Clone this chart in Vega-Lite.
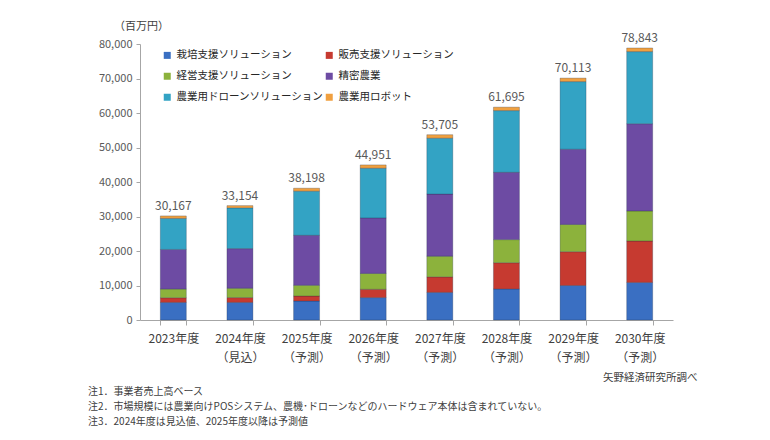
{
  "$schema": "https://vega.github.io/schema/vega-lite/v6.json",
  "width": 533,
  "height": 276,
  "autosize": {"type": "none"},
  "padding": {"left": 140, "top": 44, "right": 97, "bottom": 120},
  "background": "white",
  "config": {
    "font": "Noto Sans CJK JP",
    "view": {"stroke": null},
    "axis": {"labelFont": "Noto Sans CJK JP", "titleFont": "Noto Sans CJK JP"},
    "legend": {"labelFont": "Noto Sans CJK JP"}
  },
  "title": {
    "text": ["注1．事業者売上高ベース", "注2．市場規模には農業向けPOSシステム、農機･ドローンなどのハードウェア本体は含まれていない。", "注3．2024年度は見込値、2025年度以降は予測値"],
    "orient": "bottom",
    "anchor": "start",
    "frame": "group",
    "dx": -52,
    "offset": 4,
    "fontSize": 10,
    "fontWeight": "normal",
    "color": "#404040",
    "lineHeight": 15,
    "font": "Noto Sans CJK JP"
  },
  "datasets": {
    "segments": [
      {"year": "2023年度", "cat": "栽培支援ソリューション", "k": 1, "v": 5100},
      {"year": "2023年度", "cat": "販売支援ソリューション", "k": 2, "v": 1350},
      {"year": "2023年度", "cat": "経営支援ソリューション", "k": 3, "v": 2500},
      {"year": "2023年度", "cat": "精密農業", "k": 4, "v": 11500},
      {"year": "2023年度", "cat": "農業用ドローンソリューション", "k": 5, "v": 9000},
      {"year": "2023年度", "cat": "農業用ロボット", "k": 6, "v": 717},
      {"year": "2024年度", "cat": "栽培支援ソリューション", "k": 1, "v": 5100},
      {"year": "2024年度", "cat": "販売支援ソリューション", "k": 2, "v": 1400},
      {"year": "2024年度", "cat": "経営支援ソリューション", "k": 3, "v": 2700},
      {"year": "2024年度", "cat": "精密農業", "k": 4, "v": 11500},
      {"year": "2024年度", "cat": "農業用ドローンソリューション", "k": 5, "v": 11800},
      {"year": "2024年度", "cat": "農業用ロボット", "k": 6, "v": 654},
      {"year": "2025年度", "cat": "栽培支援ソリューション", "k": 1, "v": 5500},
      {"year": "2025年度", "cat": "販売支援ソリューション", "k": 2, "v": 1450},
      {"year": "2025年度", "cat": "経営支援ソリューション", "k": 3, "v": 3100},
      {"year": "2025年度", "cat": "精密農業", "k": 4, "v": 14500},
      {"year": "2025年度", "cat": "農業用ドローンソリューション", "k": 5, "v": 12800},
      {"year": "2025年度", "cat": "農業用ロボット", "k": 6, "v": 848},
      {"year": "2026年度", "cat": "栽培支援ソリューション", "k": 1, "v": 6500},
      {"year": "2026年度", "cat": "販売支援ソリューション", "k": 2, "v": 2400},
      {"year": "2026年度", "cat": "経営支援ソリューション", "k": 3, "v": 4600},
      {"year": "2026年度", "cat": "精密農業", "k": 4, "v": 16100},
      {"year": "2026年度", "cat": "農業用ドローンソリューション", "k": 5, "v": 14400},
      {"year": "2026年度", "cat": "農業用ロボット", "k": 6, "v": 951},
      {"year": "2027年度", "cat": "栽培支援ソリューション", "k": 1, "v": 8000},
      {"year": "2027年度", "cat": "販売支援ソリューション", "k": 2, "v": 4500},
      {"year": "2027年度", "cat": "経営支援ソリューション", "k": 3, "v": 6000},
      {"year": "2027年度", "cat": "精密農業", "k": 4, "v": 18000},
      {"year": "2027年度", "cat": "農業用ドローンソリューション", "k": 5, "v": 16200},
      {"year": "2027年度", "cat": "農業用ロボット", "k": 6, "v": 1005},
      {"year": "2028年度", "cat": "栽培支援ソリューション", "k": 1, "v": 9000},
      {"year": "2028年度", "cat": "販売支援ソリューション", "k": 2, "v": 7600},
      {"year": "2028年度", "cat": "経営支援ソリューション", "k": 3, "v": 6700},
      {"year": "2028年度", "cat": "精密農業", "k": 4, "v": 19500},
      {"year": "2028年度", "cat": "農業用ドローンソリューション", "k": 5, "v": 17900},
      {"year": "2028年度", "cat": "農業用ロボット", "k": 6, "v": 995},
      {"year": "2029年度", "cat": "栽培支援ソリューション", "k": 1, "v": 10000},
      {"year": "2029年度", "cat": "販売支援ソリューション", "k": 2, "v": 9800},
      {"year": "2029年度", "cat": "経営支援ソリューション", "k": 3, "v": 7900},
      {"year": "2029年度", "cat": "精密農業", "k": 4, "v": 21800},
      {"year": "2029年度", "cat": "農業用ドローンソリューション", "k": 5, "v": 19600},
      {"year": "2029年度", "cat": "農業用ロボット", "k": 6, "v": 1013},
      {"year": "2030年度", "cat": "栽培支援ソリューション", "k": 1, "v": 10900},
      {"year": "2030年度", "cat": "販売支援ソリューション", "k": 2, "v": 12000},
      {"year": "2030年度", "cat": "経営支援ソリューション", "k": 3, "v": 8700},
      {"year": "2030年度", "cat": "精密農業", "k": 4, "v": 25300},
      {"year": "2030年度", "cat": "農業用ドローンソリューション", "k": 5, "v": 20900},
      {"year": "2030年度", "cat": "農業用ロボット", "k": 6, "v": 1043}
    ],
    "totals": [
      {"year": "2023年度", "v": 30167},
      {"year": "2024年度", "v": 33154},
      {"year": "2025年度", "v": 38198},
      {"year": "2026年度", "v": 44951},
      {"year": "2027年度", "v": 53705},
      {"year": "2028年度", "v": 61695},
      {"year": "2029年度", "v": 70113},
      {"year": "2030年度", "v": 78843}
    ]
  },
  "encoding": {
    "x": {
      "field": "year", "type": "nominal", "sort": null,
      "scale": {"paddingInner": 0.61, "paddingOuter": 0.305},
      "axis": {
        "title": "矢野経済研究所調べ",
        "titleX": 557, "titleY": 57, "titleAlign": "right", "titleAnchor": null, "titleBaseline": "middle",
        "titleFontSize": 10.5, "titleFontWeight": "normal", "titleColor": "#404040",
        "labelAngle": 0, "labelFontSize": 12, "labelColor": "#404040", "labelPadding": 8, "labelLineHeight": 19,
        "labelBaseline": "top",
        "labelExpr": "datum.index < 0.05 ? [datum.value, ' '] : (datum.index < 0.2 ? [datum.value, '（見込）'] : [datum.value, '（予測）'])",
        "domainColor": "#a6a6a6", "tickColor": "#a6a6a6", "tickSize": 5, "tickBand": "extent"
      }
    },
    "y": {
      "field": "v", "type": "quantitative", "stack": "zero",
      "scale": {"domain": [0, 80000], "nice": false},
      "axis": {
        "title": "（百万円）",
        "titleAngle": 0, "titleX": 1, "titleY": -18, "titleAlign": "center", "titleBaseline": "middle",
        "titleFontSize": 11, "titleFontWeight": "normal", "titleColor": "#404040",
        "values": [0, 10000, 20000, 30000, 40000, 50000, 60000, 70000, 80000],
        "format": ",d", "labelOverlap": false, "labelFontSize": 11, "labelColor": "#595959", "labelPadding": 4,
        "grid": false, "domainColor": "#a6a6a6", "tickColor": "#a6a6a6", "tickSize": 4
      }
    }
  },
  "layer": [
    {
      "data": {"name": "segments"},
      "mark": {"type": "bar", "stroke": "#1c2a40", "strokeWidth": 0.6, "strokeOpacity": 0.45},
      "encoding": {
        "color": {
          "field": "cat", "type": "nominal",
          "scale": {
            "domain": ["栽培支援ソリューション", "販売支援ソリューション", "経営支援ソリューション", "精密農業", "農業用ドローンソリューション", "農業用ロボット"],
            "range": ["#3a6fc2", "#c63a30", "#8cb23c", "#6d4ba3", "#33a3c4", "#f0a040"]
          },
          "legend": {
            "title": null, "orient": "none", "legendX": 22, "legendY": 6,
            "values": ["栽培支援ソリューション", "経営支援ソリューション", "農業用ドローンソリューション", "販売支援ソリューション", "精密農業", "農業用ロボット"],
            "columns": 2, "columnPadding": -7, "rowPadding": 10,
            "symbolType": "square", "symbolSize": 49, "symbolStrokeWidth": 0,
            "labelFontSize": 10.5, "labelLimit": 300, "labelColor": "#262626", "labelOffset": 4, "padding": 0
          }
        },
        "order": {"field": "k", "type": "quantitative", "sort": "ascending"}
      }
    },
    {
      "data": {"name": "totals"},
      "mark": {"type": "text", "baseline": "bottom", "dy": -3, "fontSize": 12, "color": "#595959"},
      "encoding": {
        "text": {"field": "v", "type": "quantitative", "format": ","}
      }
    }
  ]
}
